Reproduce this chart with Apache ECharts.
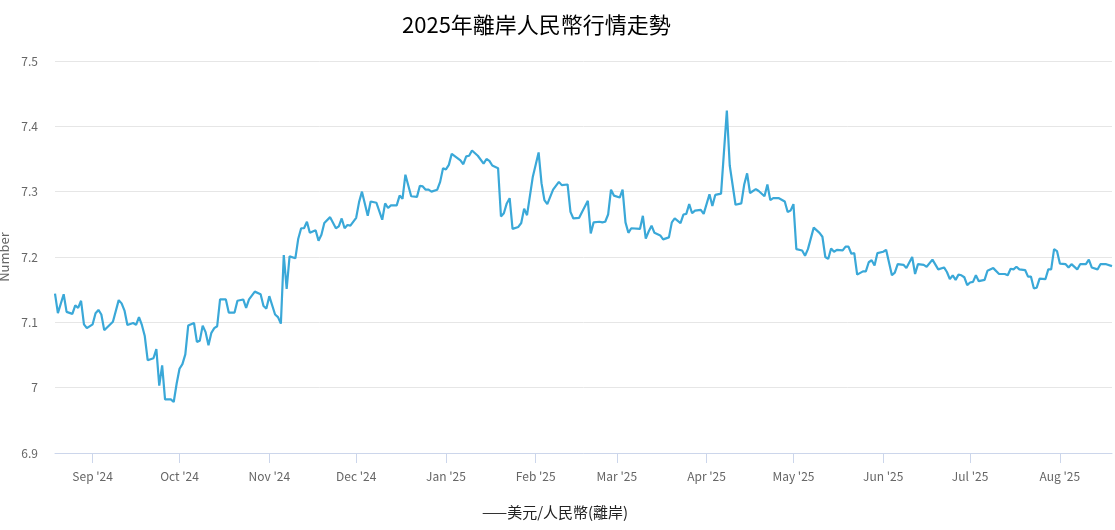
<!DOCTYPE html>
<html>
<head>
<meta charset="utf-8">
<script src="https://cdn.jsdelivr.net/npm/echarts@6/dist/echarts.min.js"></script>
<style>html,body{margin:0;padding:0;background:#fff}#c{width:1115px;height:530px}</style>
</head>
<body>
<div id="c"></div>
<script>
const titleText = '2025年離岸人民幣行情走勢';
const seriesName = '美元/人民幣(離岸)';
const yAxisName = 'Number';
const monthNames = ['Jan','Feb','Mar','Apr','May','Jun','Jul','Aug','Sep','Oct','Nov','Dec'];
const yTicks = [6.9, 7.0, 7.1, 7.2, 7.3, 7.4, 7.5];

const dates = [
 '2024-08-19','2024-08-20','2024-08-22','2024-08-23','2024-08-25','2024-08-26','2024-08-27','2024-08-28','2024-08-29','2024-08-30',
 '2024-09-01','2024-09-02','2024-09-03','2024-09-04','2024-09-05','2024-09-08','2024-09-10','2024-09-11','2024-09-12','2024-09-13',
 '2024-09-15','2024-09-16','2024-09-17','2024-09-18','2024-09-19','2024-09-20','2024-09-22','2024-09-23','2024-09-24','2024-09-25',
 '2024-09-26','2024-09-28','2024-09-29','2024-09-30',
 '2024-10-01','2024-10-02','2024-10-03','2024-10-04','2024-10-06','2024-10-07','2024-10-08','2024-10-09','2024-10-10','2024-10-11',
 '2024-10-12','2024-10-13','2024-10-14','2024-10-15','2024-10-17','2024-10-18','2024-10-20','2024-10-21','2024-10-23','2024-10-24',
 '2024-10-25','2024-10-27','2024-10-29','2024-10-30','2024-10-31',
 '2024-11-01','2024-11-03','2024-11-04','2024-11-05','2024-11-06','2024-11-07','2024-11-08','2024-11-10','2024-11-11','2024-11-12',
 '2024-11-13','2024-11-14','2024-11-15','2024-11-17','2024-11-18','2024-11-19','2024-11-20','2024-11-22','2024-11-24','2024-11-25',
 '2024-11-26','2024-11-27','2024-11-28','2024-11-29',
 '2024-12-01','2024-12-02','2024-12-03','2024-12-05','2024-12-06','2024-12-08','2024-12-10','2024-12-11','2024-12-12','2024-12-13',
 '2024-12-15','2024-12-16','2024-12-17','2024-12-18','2024-12-20','2024-12-22','2024-12-23','2024-12-24','2024-12-25','2024-12-26',
 '2024-12-27','2024-12-29','2024-12-30','2024-12-31',
 '2025-01-01','2025-01-02','2025-01-03','2025-01-06','2025-01-07','2025-01-08','2025-01-09','2025-01-10','2025-01-12','2025-01-14',
 '2025-01-15','2025-01-16','2025-01-17','2025-01-19','2025-01-20','2025-01-21','2025-01-22','2025-01-23','2025-01-24','2025-01-26',
 '2025-01-27','2025-01-28','2025-01-29','2025-01-31',
 '2025-02-02','2025-02-03','2025-02-04','2025-02-05','2025-02-07','2025-02-09','2025-02-10','2025-02-12','2025-02-13','2025-02-14',
 '2025-02-16','2025-02-17','2025-02-19','2025-02-20','2025-02-21','2025-02-23','2025-02-24','2025-02-25','2025-02-26','2025-02-27',
 '2025-02-28',
 '2025-03-02','2025-03-03','2025-03-04','2025-03-05','2025-03-06','2025-03-09','2025-03-10','2025-03-11','2025-03-12','2025-03-13',
 '2025-03-14','2025-03-16','2025-03-17','2025-03-19','2025-03-20','2025-03-21','2025-03-23','2025-03-24','2025-03-25','2025-03-26',
 '2025-03-27','2025-03-28','2025-03-30','2025-03-31',
 '2025-04-02','2025-04-03','2025-04-04','2025-04-06','2025-04-08','2025-04-09','2025-04-11','2025-04-13','2025-04-14','2025-04-15',
 '2025-04-16','2025-04-18','2025-04-19','2025-04-21','2025-04-22','2025-04-23','2025-04-24','2025-04-26','2025-04-28','2025-04-29',
 '2025-04-30',
 '2025-05-01','2025-05-02','2025-05-04','2025-05-05','2025-05-06','2025-05-08','2025-05-10','2025-05-11','2025-05-12','2025-05-13',
 '2025-05-14','2025-05-15','2025-05-16','2025-05-18','2025-05-19','2025-05-20','2025-05-21','2025-05-22','2025-05-23','2025-05-25',
 '2025-05-26','2025-05-27','2025-05-28','2025-05-29','2025-05-30',
 '2025-06-01','2025-06-02','2025-06-04','2025-06-05','2025-06-06','2025-06-08','2025-06-09','2025-06-11','2025-06-12','2025-06-13',
 '2025-06-15','2025-06-16','2025-06-18','2025-06-20','2025-06-22','2025-06-23','2025-06-24','2025-06-25','2025-06-26','2025-06-27',
 '2025-06-28','2025-06-29','2025-06-30',
 '2025-07-01','2025-07-02','2025-07-03','2025-07-04','2025-07-06','2025-07-07','2025-07-09','2025-07-11','2025-07-13','2025-07-14',
 '2025-07-15','2025-07-16','2025-07-17','2025-07-18','2025-07-20','2025-07-21','2025-07-22','2025-07-23','2025-07-24','2025-07-25',
 '2025-07-27','2025-07-28','2025-07-29','2025-07-30','2025-07-31',
 '2025-08-01','2025-08-03','2025-08-04','2025-08-05','2025-08-07','2025-08-08','2025-08-10','2025-08-11','2025-08-12','2025-08-14',
 '2025-08-15','2025-08-17','2025-08-19'
];

const rates = [
 7.144,7.114,7.143,7.116,7.113,7.126,7.122,7.133,7.097,7.091,
 7.097,7.114,7.119,7.112,7.088,7.101,7.134,7.129,7.118,7.096,
 7.099,7.096,7.108,7.096,7.079,7.042,7.045,7.059,7.003,7.034,
 6.982,6.982,6.978,7.006,
 7.029,7.036,7.051,7.095,7.099,7.070,7.072,7.095,7.085,7.065,
 7.084,7.091,7.094,7.135,7.135,7.115,7.115,7.133,7.135,7.122,
 7.135,7.147,7.143,7.125,7.121,
 7.140,7.112,7.108,7.098,7.203,7.151,7.201,7.198,7.228,7.244,
 7.244,7.254,7.237,7.241,7.225,7.234,7.252,7.261,7.244,7.247,
 7.259,7.244,7.249,7.248,
 7.260,7.284,7.300,7.263,7.285,7.283,7.257,7.282,7.275,7.279,
 7.279,7.294,7.289,7.326,7.293,7.292,7.309,7.308,7.303,7.303,
 7.300,7.303,7.315,7.336,
 7.334,7.341,7.358,7.348,7.342,7.354,7.355,7.363,7.355,7.343,
 7.350,7.347,7.340,7.336,7.262,7.267,7.282,7.290,7.243,7.246,
 7.252,7.274,7.264,7.323,
 7.360,7.313,7.287,7.281,7.303,7.315,7.310,7.311,7.269,7.259,
 7.260,7.269,7.286,7.236,7.253,7.254,7.253,7.254,7.265,7.303,
 7.294,
 7.291,7.303,7.253,7.237,7.244,7.243,7.263,7.228,7.239,7.248,
 7.237,7.233,7.227,7.230,7.253,7.259,7.252,7.265,7.266,7.281,
 7.267,7.271,7.272,7.266,
 7.296,7.278,7.295,7.297,7.424,7.340,7.280,7.282,7.311,7.328,
 7.298,7.304,7.301,7.293,7.311,7.287,7.290,7.290,7.285,7.269,
 7.271,
 7.281,7.212,7.210,7.202,7.212,7.245,7.237,7.231,7.200,7.197,
 7.213,7.208,7.211,7.210,7.216,7.216,7.205,7.206,7.173,7.178,
 7.178,7.192,7.195,7.187,7.206,
 7.208,7.211,7.172,7.176,7.189,7.188,7.183,7.200,7.174,7.189,
 7.188,7.185,7.196,7.181,7.184,7.177,7.166,7.172,7.165,7.173,
 7.172,7.169,7.157,
 7.161,7.162,7.172,7.163,7.165,7.179,7.183,7.174,7.174,7.172,
 7.182,7.181,7.185,7.181,7.180,7.170,7.170,7.152,7.153,7.167,
 7.166,7.181,7.181,7.212,7.209,
 7.190,7.189,7.184,7.189,7.181,7.189,7.189,7.196,7.184,7.181,
 7.189,7.189,7.186
];

const FONT = '"Noto Sans CJK TC", "Noto Sans", sans-serif';
const chart = echarts.init(document.getElementById('c'), null, {renderer: 'canvas'});
const seriesData = dates.map((d, i) => [d, rates[i]]);

chart.setOption({
  animation: false,
  backgroundColor: '#ffffff',
  textStyle: {fontFamily: FONT},
  title: {
    text: titleText,
    left: 397,
    top: 9,
    textStyle: {fontFamily: FONT, fontSize: 22, fontWeight: 'normal', color: '#000'}
  },
  legend: {
    data: [seriesName],
    bottom: 5,
    left: 472,
    icon: 'none',
    itemWidth: 0,
    itemHeight: 0,
    formatter: n => '——' + n,
    textStyle: {fontFamily: FONT, fontSize: 15, color: '#222'}
  },
  grid: {left: 55, right: 3, top: 61, bottom: 77, containLabel: false, outerBoundsMode: 'none'},
  xAxis: {
    type: 'time',
    min: '2024-08-19',
    max: '2025-08-19',
    minInterval: 28 * 86400000,
    maxInterval: 31 * 86400000,
    axisLine: {show: true, lineStyle: {color: '#ccd6eb', width: 1}},
    axisTick: {show: true, length: 10, lineStyle: {color: '#ccd6eb'}},
    splitLine: {show: false},
    axisLabel: {
      color: '#666',
      fontSize: 12,
      margin: 17,
      fontFamily: FONT,
      hideOverlap: false,
      formatter: v => {
        const d = new Date(v);
        return monthNames[d.getMonth()] + " '" + String(d.getFullYear()).slice(2);
      },
      rich: {}
    }
  },
  yAxis: {
    type: 'value',
    min: yTicks[0],
    max: yTicks[yTicks.length - 1],
    interval: 0.1,
    name: yAxisName,
    nameLocation: 'middle',
    nameGap: 37,
    nameRotate: 90,
    nameTextStyle: {color: '#666', fontSize: 13, fontFamily: FONT},
    axisLine: {show: false},
    axisTick: {show: false},
    splitLine: {lineStyle: {color: '#e6e6e6', width: 1}},
    axisLabel: {
      color: '#666',
      fontSize: 12,
      margin: 17,
      fontFamily: FONT,
      formatter: v => String(+v.toFixed(1))
    }
  },
  series: [{
    name: seriesName,
    type: 'line',
    data: seriesData,
    showSymbol: false,
    symbol: 'none',
    lineStyle: {color: '#3aa8d8', width: 2.2},
    itemStyle: {color: '#3aa8d8'}
  }]
});
</script>
</body>
</html>
